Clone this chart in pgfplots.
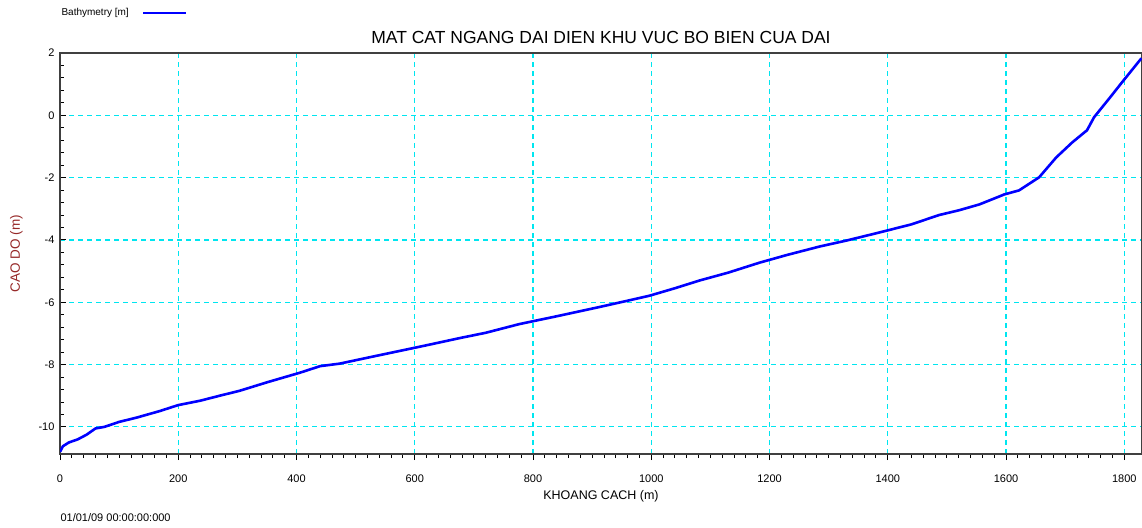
\documentclass[border=0pt]{standalone}
\usepackage{fontspec}
\setmainfont{Liberation Sans}
\usepackage{pgfplots}
\pgfplotsset{compat=1.18}
\definecolor{gridcyan}{RGB}{0,230,240}
\definecolor{ylab}{RGB}{150,40,40}

\pgfplotstableread{
x y
0 -10.80
5 -10.62
15 -10.50
30 -10.40
45 -10.25
60 -10.05
75 -10.00
100 -9.84
130 -9.70
169 -9.49
200 -9.30
237 -9.16
270 -9.00
304 -8.84
350 -8.57
406 -8.26
440 -8.05
473 -7.97
520 -7.78
575 -7.56
620 -7.38
676 -7.15
720 -6.98
777 -6.70
840 -6.45
913 -6.15
960 -5.95
997 -5.79
1040 -5.55
1082 -5.30
1130 -5.05
1183 -4.73
1230 -4.48
1285 -4.21
1330 -4.02
1386 -3.76
1440 -3.50
1487 -3.20
1520 -3.05
1555 -2.86
1597 -2.54
1622 -2.41
1656 -1.99
1685 -1.35
1712 -0.87
1737 -0.48
1749 -0.06
1775 0.55
1795 1.03
1829 1.83
}\bathy

\begin{document}
\begin{tikzpicture}[x=1pt,y=1pt]
\useasboundingbox (0,0) rectangle (1142,527);
\begin{axis}[
    at={(60pt,73pt)}, anchor=south west,
    scale only axis,
    width=1082pt, height=401pt,
    xmin=0, xmax=1830,
    ymin=-10.87, ymax=2,
    xtick={0,200,...,1800},
    ytick={-10,-8,...,2},
    minor x tick num=9,
    minor y tick num=4,
    tick pos=left,
    xtick align=outside,
    ytick align=inside,
    major tick length=6pt,
    minor tick length=4pt,
    tick style={black, line width=0.9pt},
    axis line style={line width=1.2pt, black!75},
    grid=major,
    major grid style={gridcyan, dashed, line width=1.2pt, dash pattern=on 5pt off 4pt},
    /pgf/number format/assume math mode=true,
    /pgf/number format/1000 sep={},
    ticklabel style={font=\fontsize{11}{13}\selectfont},
    xticklabel style={yshift=-11pt},
    yticklabel style={xshift=-2pt},
    title={MAT CAT NGANG DAI DIEN KHU VUC BO BIEN CUA DAI},
    title style={font=\fontsize{17.5}{19}\selectfont, at={(0.5,1)}, anchor=south, yshift=0pt},
    xlabel={KHOANG CACH (m)},
    xlabel style={font=\fontsize{12.5}{14}\selectfont, yshift=-1pt},
    ylabel={CAO DO (m)},
    ylabel style={font=\fontsize{13.5}{15}\selectfont, color=ylab, yshift=9pt},
]
\addplot[blue, line width=2.6pt, line join=round] table[x=x, y=y] {\bathy};
\end{axis}
\node[anchor=west, font=\fontsize{10}{11}\selectfont] at (58,514) {Bathymetry [m]};
\draw[blue, line width=2.6pt] (143,514) -- (186,514);
\node[anchor=west, font=\fontsize{11}{12}\selectfont] at (57,9) {01/01/09 00:00:00:000};
\end{tikzpicture}
\end{document}
